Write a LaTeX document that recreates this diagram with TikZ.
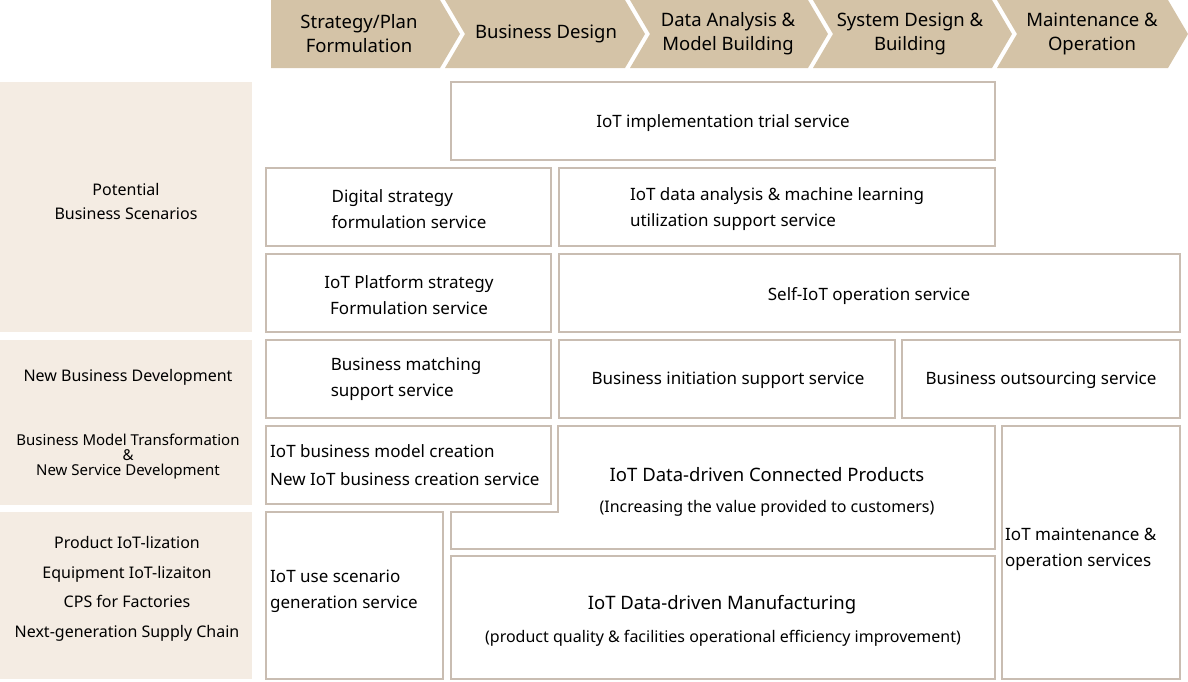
\documentclass[tikz,border=0pt]{standalone}
\usepackage{fontspec}
\setmainfont{Noto Sans}
\begin{document}
\begin{tikzpicture}[x=1pt,y=-1pt,
  chev/.style={fill=chevc,draw=none},
  side/.style={fill=sidec,draw=none},
  box/.style={draw=boxc,line width=1.2pt,fill=white},
  txt/.style={font=\fontsize{17}{26}\selectfont,align=center,inner sep=0pt},
  stxt/.style={font=\fontsize{16}{24}\selectfont,align=center,inner sep=0pt},
  htxt/.style={font=\fontsize{18.5}{24}\selectfont,align=center,inner sep=0pt}]
\definecolor{chevc}{HTML}{D4C3A7}
\definecolor{sidec}{HTML}{F4ECE3}
\definecolor{boxc}{HTML}{C9BDB2}
\useasboundingbox (0,0) rectangle (1188,681);
% chevrons
\fill[chev] (271,0) -- (440,0) -- (460,34) -- (440,68) -- (271,68) -- cycle;
\fill[chev] (445,0) -- (625,0) -- (645,34) -- (625,68) -- (445,68) -- (465,34) -- cycle;
\fill[chev] (630,0) -- (808,0) -- (828,34) -- (808,68) -- (630,68) -- (650,34) -- cycle;
\fill[chev] (813,0) -- (992,0) -- (1012,34) -- (992,68) -- (813,68) -- (833,34) -- cycle;
\fill[chev] (997,0) -- (1168,0) -- (1188,34) -- (1168,68) -- (997,68) -- (1017,34) -- cycle;
\node[htxt] (h1) at (359,34) {Strategy/Plan\\Formulation};
\node[htxt] (h2) at (546,34) {Business Design};
\node[htxt] (h3) at (728,34) {Data Analysis \&\\Model Building};
\node[htxt] (h4) at (910,34) {System Design \&\\Building};
\node[htxt] (h5) at (1092,34) {Maintenance \&\\Operation};
% side panels
\fill[side] (0,82) rectangle (252,332);
\fill[side] (0,340) rectangle (252,505);
\fill[side] (0,512) rectangle (252,679);
\node[stxt] (s1) at (126,201) {Potential\\Business Scenarios};
\node[stxt] (s2) at (128,377) {New Business Development};
\node[font=\fontsize{15}{19}\selectfont,align=center,inner sep=0pt] (s3) at (128,457) {Business Model Transformation\\[-4pt]\&\\[-4pt]New Service Development};
\node[font=\fontsize{16}{29.5}\selectfont,align=center,inner sep=0pt] (s4) at (127,589) {Product IoT-lization\\Equipment IoT-lizaiton\\CPS for Factories\\Next-generation Supply Chain};
% boxes
\draw[box] (451,82) rectangle (995,160);
\node[txt] (b1) at (723,123) {IoT implementation trial service};
\draw[box] (266,168) rectangle (551,246);
\node[txt,align=left] (b2) at (409,209) {Digital strategy\\formulation service};
\draw[box] (559,168) rectangle (995,246);
\node[txt,align=left] (b3) at (777,209) {IoT data analysis \& machine learning\\utilization support service};
\draw[box] (266,254) rectangle (551,332);
\node[txt] (b4) at (409,295) {IoT Platform strategy\\Formulation service};
\draw[box] (559,254) rectangle (1180,332);
\node[txt] (b5) at (869,296) {Self-IoT operation service};
\draw[box] (266,340) rectangle (551,418);
\node[txt,align=left] (b6) at (406,379) {Business matching\\support service};
\draw[box] (559,340) rectangle (895,418);
\node[txt] (b7) at (728,380) {Business initiation support service};
\draw[box] (902,340) rectangle (1180,418);
\node[txt] (b8) at (1041,380) {Business outsourcing service};
\draw[box] (266,426) rectangle (551,504);
\node[txt,align=left,anchor=west,font=\fontsize{17}{28}\selectfont] (b9) at (270,465) {IoT business model creation\\New IoT business creation service};
\draw[box] (558,426) -- (995,426) -- (995,549) -- (451,549) -- (451,512) -- (558,512) -- cycle;
\node[txt,font=\fontsize{18.5}{24}\selectfont] (b10) at (767,475) {IoT Data-driven Connected Products};
\node[stxt] (b10b) at (767,508) {(Increasing the value provided to customers)};
\draw[box] (1002,426) rectangle (1180,679);
\node[txt,align=left,anchor=west] (b11) at (1005,549) {IoT maintenance \&\\operation services};
\draw[box] (266,512) rectangle (443,679);
\node[txt,align=left,anchor=west] (b12) at (270,591) {IoT use scenario\\generation service};
\draw[box] (451,556) rectangle (995,679);
\node[txt,font=\fontsize{18.5}{24}\selectfont] (b13) at (722,605) {IoT Data-driven Manufacturing};
\node[stxt] (b13b) at (723,638) {(product quality \& facilities operational efficiency improvement)};
\end{tikzpicture}
\end{document}
